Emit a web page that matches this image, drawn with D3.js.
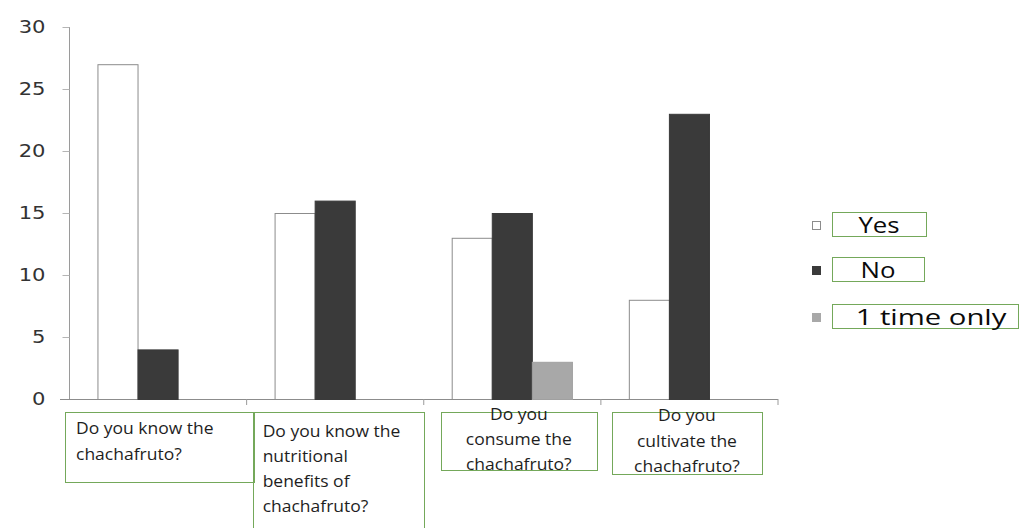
<!DOCTYPE html>
<html>
<head>
<meta charset="utf-8">
<script src="https://cdn.jsdelivr.net/npm/d3@7"></script>
<style>
  html, body { margin: 0; padding: 0; background: #fff; }
  svg { display: block; }
</style>
</head>
<body>
<svg id="chart" width="1019" height="528"></svg>
<script>
// Survey answers about the chachafruto, number of respondents per answer
const categories = ["know", "benefits", "consume", "cultivate"];
const categoryLines = [
  ["Do you know the", "chachafruto?"],
  ["Do you know the", "nutritional", "benefits of", "chachafruto?"],
  ["Do you", "consume the", "chachafruto?"],
  ["Do you", "cultivate the", "chachafruto?"]
];
const seriesNames = ["Yes", "No", "1 time only"];
const yesValues = [27, 15, 13, 8];
const noValues = [4, 16, 15, 23];
const onceValues = [null, null, 3, null];
const yTicks = [0, 5, 10, 15, 20, 25, 30];

const seriesValues = [yesValues, noValues, onceValues];
const seriesFill = ["#ffffff", "#3a3a3a", "#a8a8a8"];
const seriesStroke = ["#8c8c8c", "#3a3a3a", "#a0a0a0"];

const svg = d3.select("#chart");

const plot = { left: 69.5, right: 778, top: 27, bottom: 399 };

const y = d3.scaleLinear().domain([0, 30]).range([plot.bottom, plot.top]);
const x0 = d3.scaleBand().domain(categories).range([plot.left, plot.right])
  .paddingInner(0).paddingOuter(0);
const x1 = d3.scaleBand().domain(seriesNames)
  .range([0, x0.bandwidth()]).paddingInner(0).paddingOuter(0.71);

// y axis
const yAxis = d3.axisLeft(y).tickValues(yTicks).tickSize(7).tickPadding(17);
const gy = svg.append("g").attr("transform", `translate(${plot.left},0)`).call(yAxis);
gy.select(".domain").attr("stroke", "#9a9a9a").attr("d", `M0,${plot.top}V${plot.bottom}`);
gy.selectAll(".tick line").attr("stroke", "#b5b5b5");
gy.selectAll(".tick text")
  .attr("fill", "#333")
  .attr("font-family", "DejaVu Sans")
  .attr("font-size", 18.5)
  .attr("text-anchor", "end")
  .attr("transform", `translate(-24,0) scale(1.14,1) translate(24,0)`);

// x axis line with category boundary ticks
const xAxisG = svg.append("g");
xAxisG.append("line")
  .attr("x1", 60).attr("x2", plot.right)
  .attr("y1", plot.bottom + 0.5).attr("y2", plot.bottom + 0.5)
  .attr("stroke", "#8c8c8c");
xAxisG.selectAll("line.bound")
  .data(categories)
  .join("line")
  .attr("class", "bound")
  .attr("x1", d => x0(d) + x0.bandwidth()).attr("x2", d => x0(d) + x0.bandwidth())
  .attr("y1", plot.bottom).attr("y2", plot.bottom + 6)
  .attr("stroke", "#9a9a9a");

// bars
const rows = categories.map((c, i) => ({
  cat: c,
  bars: seriesNames.map((s, j) => ({ series: s, j, value: seriesValues[j][i] }))
    .filter(b => b.value !== null)
}));

svg.append("g").selectAll("g")
  .data(rows)
  .join("g")
  .attr("transform", d => `translate(${x0(d.cat)},0)`)
  .selectAll("rect")
  .data(d => d.bars)
  .join("rect")
  .attr("x", d => x1(d.series))
  .attr("y", d => y(d.value) + 0.5)
  .attr("width", x1.bandwidth())
  .attr("height", d => y(0) - y(d.value))
  .attr("fill", d => seriesFill[d.j])
  .attr("stroke", d => seriesStroke[d.j])
  .attr("stroke-width", 1);

// category label boxes
const boxLayout = [
  { l: -4.5, r: 7, top: 412.5, h: 70, align: "start", pad: 11, first: 434, step: 26 },
  { l: 6, r: 0, top: 412.5, h: 130, align: "start", pad: 10, first: 437, step: 25 },
  { l: 17, r: -4, top: 412.5, h: 58, align: "middle", pad: 0, first: 420, step: 25 },
  { l: 11, r: -16, top: 412.5, h: 62, align: "middle", pad: 0, first: 421, step: 25.5 }
];
const labelG = svg.append("g");
categories.forEach((c, i) => {
  const b = boxLayout[i];
  const x = x0(c) + b.l;
  const w = x0.bandwidth() - b.l + b.r;
  labelG.append("rect")
    .attr("x", Math.round(x) + 0.5).attr("y", b.top)
    .attr("width", Math.round(w)).attr("height", b.h)
    .attr("fill", "none").attr("stroke", "#74a85a").attr("stroke-width", 1);
  const tx = b.align === "start" ? x + b.pad : x + w / 2;
  categoryLines[i].forEach((line, k) => {
    labelG.append("text")
      .attr("transform", `translate(${tx},${b.first + k * b.step}) scale(1.13,1)`)
      .attr("text-anchor", b.align)
      .attr("font-family", "Open Sans")
      .attr("font-size", 15.5)
      .attr("fill", "#1e1e1e")
      .text(line);
  });
});

// legend
const legendItems = seriesNames.map((s, j) => ({ s, j }));
const legendLayout = [
  { top: 212.5, w: 94, cx: 879, sx: 1.2 },
  { top: 257.5, w: 92, cx: 878, sx: 1.2 },
  { top: 304.5, w: 186, cx: 931, sx: 1.36 }
];
const lg = svg.append("g");
legendItems.forEach(d => {
  const L = legendLayout[d.j];
  lg.append("rect")
    .attr("x", 812.5).attr("y", L.top + 9)
    .attr("width", 8).attr("height", 8)
    .attr("fill", seriesFill[d.j])
    .attr("stroke", d.j === 0 ? "#8c8c8c" : seriesFill[d.j]);
  lg.append("rect")
    .attr("x", 832.5).attr("y", L.top)
    .attr("width", L.w).attr("height", 24)
    .attr("fill", "none").attr("stroke", "#74a85a");
  lg.append("text")
    .attr("transform", `translate(${L.cx},${L.top + 20}) scale(${L.sx},1)`)
    .attr("text-anchor", "middle")
    .attr("font-family", "Open Sans")
    .attr("font-size", 21.5)
    .attr("fill", "#0a0a0a")
    .text(d.s);
});
</script>
</body>
</html>
